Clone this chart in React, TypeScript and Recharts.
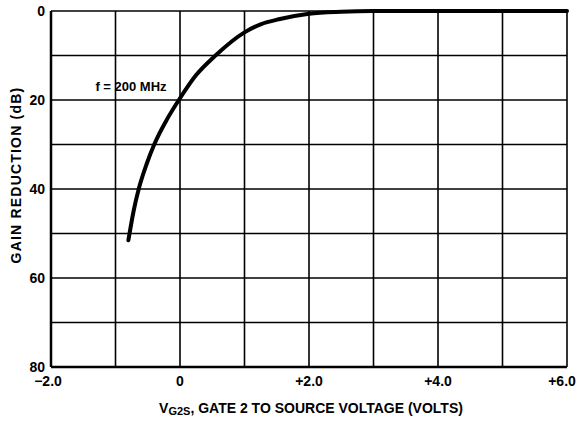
import React from 'react'
import {
  LineChart,
  Line,
  XAxis,
  YAxis,
  CartesianGrid,
  ReferenceDot,
} from 'recharts'

// gate-2 voltage (V) and matching gain reduction (dB)
const voltage = [-0.8, -0.72, -0.64, -0.52, -0.4, -0.2, 0, 0.25, 0.55, 1.0, 1.25, 1.55, 2.0, 2.5, 3.0, 4.0, 5.0, 6.0]
const gainReduction = [51.5, 45, 40, 34.5, 30, 24.3, 19.6, 14.4, 10, 4.8, 3.0, 1.8, 0.6, 0.15, 0, 0, 0, 0]

const xTicks = [-2, -1, 0, 1, 2, 3, 4, 5, 6]
const xLabels: Record<number, string> = { [-2]: '\u22122.0', 0: '0', 2: '+2.0', 4: '+4.0', 6: '+6.0' }
const yTicks = [0, 10, 20, 30, 40, 50, 60, 70, 80]
const yLabels = [0, 20, 40, 60, 80]

const curveNote = { x: -0.76, y: 16.9, text: 'f = 200 MHz' }

const data = voltage.map((v, i) => ({ v, gr: gainReduction[i] }))

const FONT = '"Liberation Sans", Arial, sans-serif'

// the end labels sit a little inside the frame on the original sheet
const XTick = (props: any) => {
  const { x, y, payload } = props
  const v = payload.value as number
  const shift = v === 6 ? -5 : v === -2 ? -3 : 0
  return (
    <text
      x={x + shift}
      y={y}
      dy='0.71em'
      textAnchor='middle'
      fill='#000'
      fontSize={14}
      fontWeight={700}
      fontFamily={FONT}>
      {xLabels[v] ?? ''}
    </text>
  )
}

const App = () => {
  return (
    <div
      style={{
        position: 'absolute',
        left: 0,
        top: 0,
        width: 579,
        height: 421,
        background: '#fff',
        fontFamily: FONT,
      }}>
      <style>{'svg.recharts-surface { overflow: visible; }'}</style>
      <LineChart
        width={579}
        height={421}
        data={data}
        margin={{ top: 11, right: 12, left: 0, bottom: 0 }}>
        <CartesianGrid stroke='#000' strokeWidth={1.6} />
        <XAxis
          type='number'
          dataKey='v'
          domain={[-2, 6]}
          ticks={xTicks}
          interval={0}
          height={54}
          tickSize={0}
          tickMargin={9}
          axisLine={{ stroke: '#000', strokeWidth: 2.5 }}
          tick={<XTick />}
          label={{
            content: () => (
              <text
                x={311}
                y={413}
                textAnchor='middle'
                fill='#000'
                fontSize={14}
                fontWeight={700}
                fontFamily={FONT}>
                V<tspan fontSize={11} dy={2}>G2S</tspan>
                <tspan dy={-2}>, GATE 2 TO SOURCE VOLTAGE (VOLTS)</tspan>
              </text>
            ),
          }}
        />
        <YAxis
          type='number'
          reversed
          domain={[0, 80]}
          ticks={yTicks}
          interval={0}
          width={51}
          tickSize={0}
          tickMargin={6}
          axisLine={{ stroke: '#000', strokeWidth: 2.5 }}
          tickFormatter={(t: number) => (yLabels.includes(t) ? String(t) : '')}
          tick={{ fill: '#000', fontSize: 14, fontWeight: 700, fontFamily: FONT }}
          label={{
            content: () => (
              <text
                x={21}
                y={175}
                transform='rotate(-90 21 175)'
                textAnchor='middle'
                fill='#000'
                fontSize={14}
                fontWeight={700}
                letterSpacing={1.2}
                fontFamily={FONT}>
                GAIN REDUCTION (dB)
              </text>
            ),
          }}
        />
        <Line
          type='monotone'
          dataKey='gr'
          stroke='#000'
          strokeWidth={4}
          strokeLinecap='round'
          dot={false}
          isAnimationActive={false}
        />
        <ReferenceDot
          x={curveNote.x}
          y={curveNote.y}
          r={0}
          fill='none'
          stroke='none'
          label={{
            value: curveNote.text,
            position: 'center',
            fill: '#000',
            fontSize: 13,
            fontWeight: 700,
            fontFamily: FONT,
          }}
        />
      </LineChart>
    </div>
  )
}

export default App
